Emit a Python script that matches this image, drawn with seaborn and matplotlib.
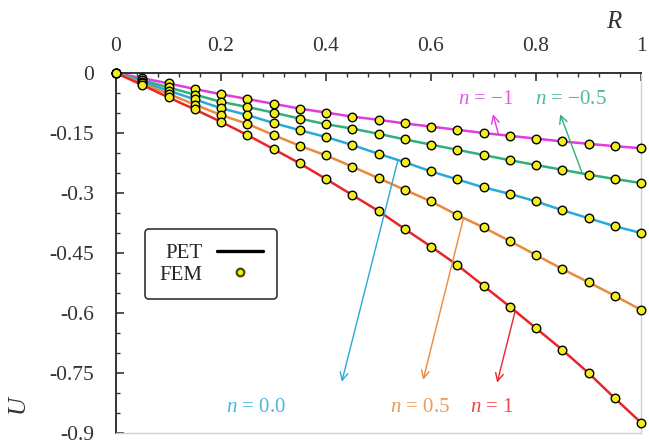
import numpy as np
import pandas as pd
import matplotlib
matplotlib.use('Agg')
import matplotlib.pyplot as plt
from matplotlib.lines import Line2D
from matplotlib.ticker import MultipleLocator
import seaborn as sns

R = [0.0, 0.05, 0.1, 0.15, 0.2, 0.25, 0.3, 0.35, 0.4, 0.45, 0.5,
     0.55, 0.6, 0.65, 0.7, 0.75, 0.8, 0.85, 0.9, 0.95, 1.0]

U_m1 = [0, -0.013, -0.026, -0.040, -0.053, -0.065, -0.077, -0.089, -0.099, -0.109, -0.117,
        -0.126, -0.134, -0.142, -0.150, -0.157, -0.164, -0.171, -0.177, -0.183, -0.188]
U_m05 = [0, -0.018, -0.036, -0.054, -0.072, -0.085, -0.099, -0.114, -0.128, -0.139, -0.152,
         -0.166, -0.179, -0.192, -0.205, -0.218, -0.230, -0.242, -0.254, -0.265, -0.275]
U_0 = [0, -0.022, -0.044, -0.066, -0.088, -0.105, -0.125, -0.143, -0.160, -0.180, -0.202,
       -0.223, -0.246, -0.266, -0.286, -0.302, -0.321, -0.343, -0.363, -0.383, -0.400]
U_05 = [0, -0.026, -0.052, -0.079, -0.105, -0.127, -0.155, -0.182, -0.206, -0.234, -0.263,
        -0.292, -0.321, -0.355, -0.386, -0.420, -0.455, -0.490, -0.523, -0.557, -0.592]
U_1 = [0, -0.030, -0.061, -0.091, -0.122, -0.155, -0.190, -0.226, -0.265, -0.305, -0.345,
       -0.390, -0.434, -0.480, -0.532, -0.584, -0.638, -0.692, -0.750, -0.813, -0.874]

n_labels = ['-1', '-0.5', '0.0', '0.5', '1']
colors = ['#e03ce0', '#2fb07a', '#2aa8dc', '#e8893c', '#e8262a']

x_ticks = [0, 0.2, 0.4, 0.6, 0.8, 1]
x_tick_labels = ['0', '0.2', '0.4', '0.6', '0.8', '1']
y_ticks = [0, -0.15, -0.3, -0.45, -0.6, -0.75, -0.9]
y_tick_labels = ['0', '-0.15', '-0.3', '-0.45', '-0.6', '-0.75', '-0.9']

df = pd.concat([pd.DataFrame({'R': R, 'U': u, 'n': lab})
                for u, lab in zip([U_m1, U_m05, U_0, U_05, U_1], n_labels)])

sns.set_style('ticks')
plt.rcParams['font.family'] = ['Liberation Serif', 'DejaVu Serif']
plt.rcParams['mathtext.fontset'] = 'custom'
plt.rcParams['mathtext.it'] = 'Liberation Serif:italic'
plt.rcParams['mathtext.rm'] = 'Liberation Serif'

fig = plt.figure(figsize=(6.49, 4.47), dpi=100)
ax = fig.add_axes([116/649, 1 - 433/447, 525/649, 360/447])

sns.lineplot(data=df, x='R', y='U', hue='n', palette=dict(zip(n_labels, colors)),
             linewidth=1.8, legend=False, ax=ax, zorder=2)
sns.scatterplot(data=df, x='R', y='U', color='#f2ee1e', edgecolor='black',
                linewidth=1.0, s=38, legend=False, ax=ax, zorder=3, clip_on=False)

ax.set_xlim(0, 1)
ax.set_ylim(-0.9, 0)
ax.xaxis.tick_top()
ax.xaxis.set_label_position('top')
ax.set_xticks(x_ticks)
ax.set_xticklabels(x_tick_labels)
ax.set_yticks(y_ticks)
ax.set_yticklabels(y_tick_labels)
ax.xaxis.set_minor_locator(MultipleLocator(0.04))
ax.yaxis.set_minor_locator(MultipleLocator(0.05))
ax.tick_params(axis='both', which='both', direction='in', labelsize=15.5, colors='#333333')
ax.tick_params(axis='x', which='major', length=6, width=1.2, pad=12)
ax.tick_params(axis='x', which='minor', length=3, width=1.0)
ax.tick_params(axis='y', which='major', length=6, width=1.2, pad=16)
ax.tick_params(axis='y', which='minor', length=3, width=1.0)
for s in ['left', 'top']:
    ax.spines[s].set_linewidth(1.4)
    ax.spines[s].set_color('#333333')
for s in ['right', 'bottom']:
    ax.spines[s].set_visible(True)
    ax.spines[s].set_color('#d0d0d0')
    ax.spines[s].set_linewidth(1.0)

ax.set_xlabel('')
ax.set_ylabel('')
fig.text(614/649, 1 - 22/447, '$R$', fontsize=18, ha='center', va='center', color='#333333')
fig.text(20/649, 1 - 405/447, '$U$', fontsize=18, ha='center', va='center',
         rotation=90, color='#333333')

# annotations: (text pos, arrow tail on curve, arrow head)
notes = [
    ('$n$ = −1', (0.705, -0.0675), (0.728, -0.151), (0.718, -0.103), colors[0]),
    ('$n$ = −0.5', (0.867, -0.0675), (0.887, -0.247), (0.846, -0.103), colors[1]),
    ('$n$ = 0.0', (0.267, -0.8375), (0.537, -0.218), (0.43, -0.772), colors[2]),
    ('$n$ = 0.5', (0.579, -0.8375), (0.662, -0.362), (0.585, -0.767), colors[3]),
    ('$n$ = 1', (0.716, -0.8375), (0.760, -0.597), (0.726, -0.774), colors[4]),
]
for txt, tpos, tail, head, c in notes:
    ax.text(tpos[0], tpos[1], txt, color=c, fontsize=15, ha='center', va='center', alpha=0.85)
    ax.annotate('', xy=head, xytext=tail,
                arrowprops=dict(arrowstyle='->', color=c, lw=1.0,
                                shrinkA=0, shrinkB=0, mutation_scale=14))

handles = [Line2D([], [], color='black', lw=2.4),
           Line2D([], [], ls='', marker='o', markerfacecolor='#f2ee1e',
                  markeredgecolor='#4a4a00', markeredgewidth=1.6, markersize=5.5)]
leg = ax.legend(handles, ['PET', 'FEM'], loc='upper left', bbox_to_anchor=(0.055, 0.567),
                markerfirst=False, frameon=True, fancybox=True, fontsize=15,
                handlelength=2.2, borderpad=0.7, labelspacing=0.1,
                handletextpad=0.7, borderaxespad=0)
leg.get_frame().set_edgecolor('#333333')
leg.get_frame().set_linewidth(1.2)
leg.get_frame().set_alpha(1)

fig.savefig('out.png', dpi=100)
